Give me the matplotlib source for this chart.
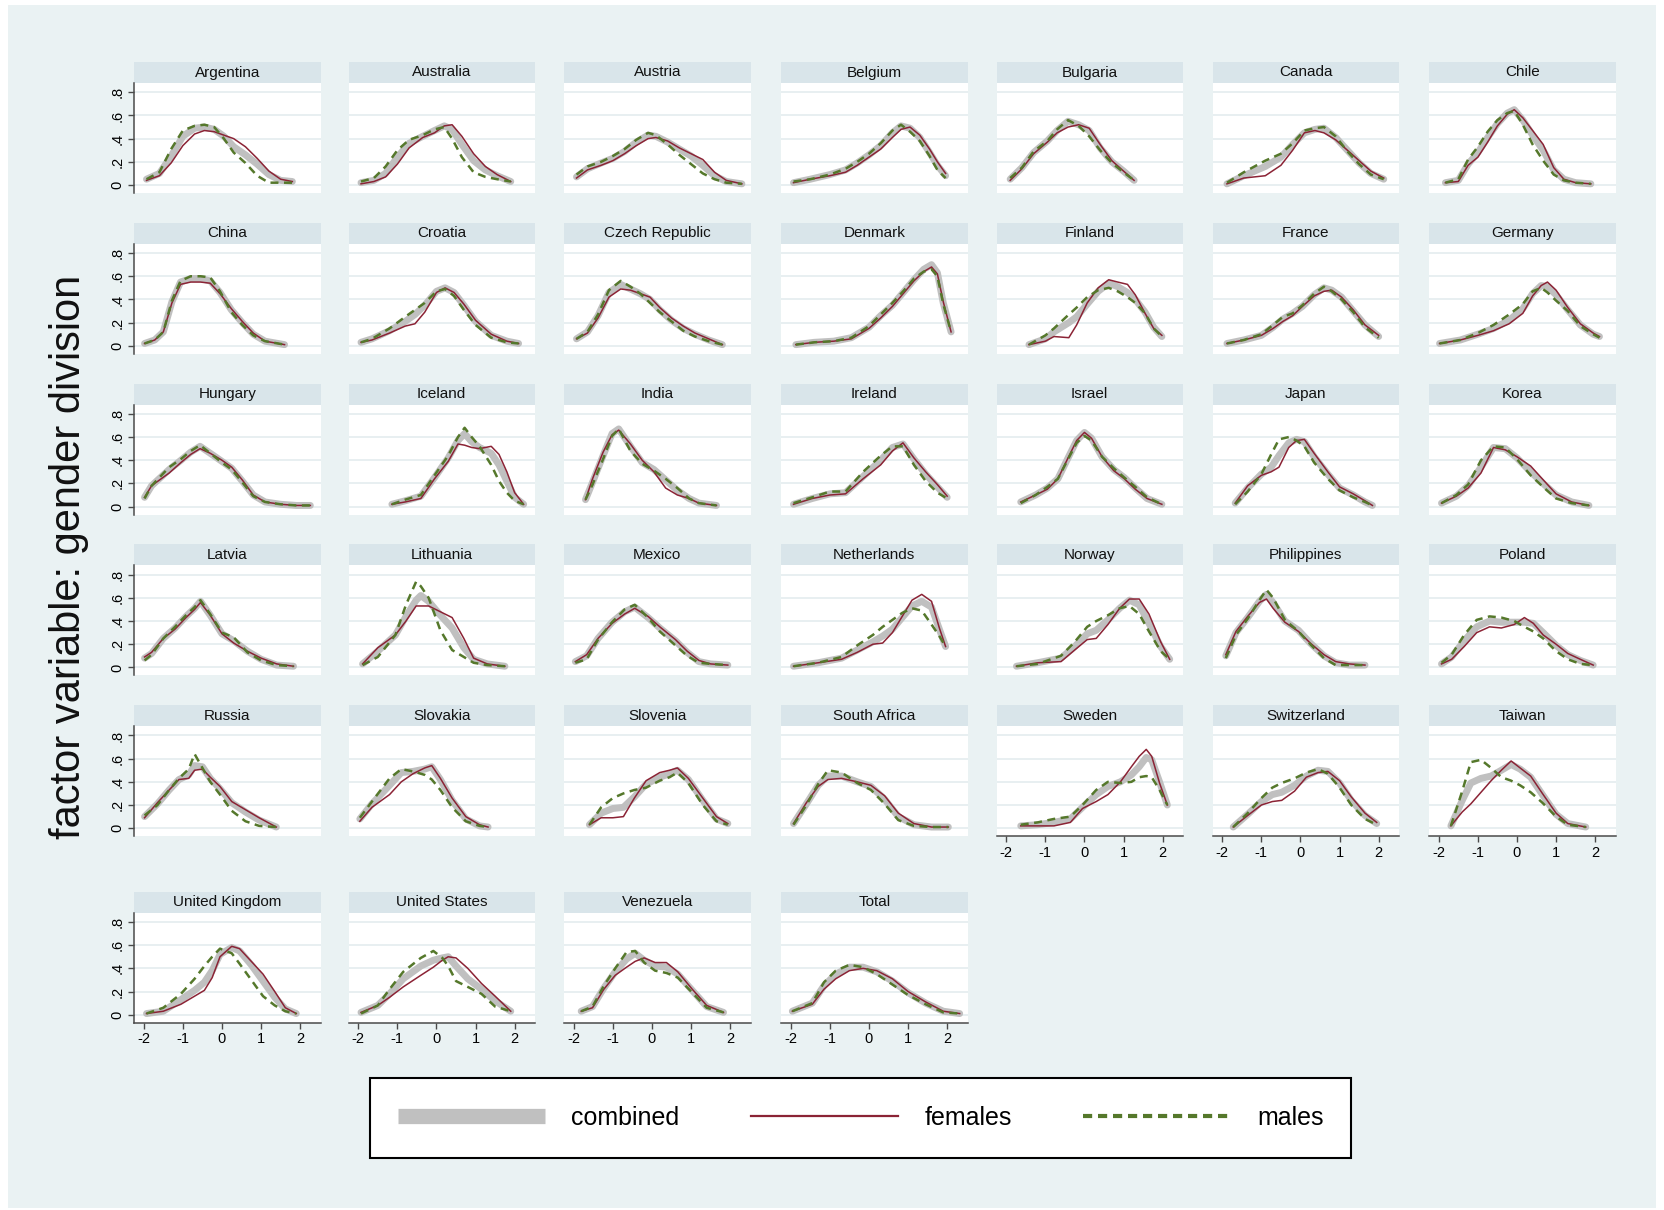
import matplotlib
matplotlib.use("Agg")
import matplotlib.pyplot as plt
from matplotlib.lines import Line2D
from matplotlib.patches import Rectangle

plt.rcParams['font.family'] = ['Liberation Sans', 'DejaVu Sans']

# ---------------- data ----------------
ARGENTINA_X = [-1.93,-1.6,-1.3,-1.0,-0.7,-0.45,-0.2,0.05,0.3,0.6,0.9,1.2,1.5,1.8]
ARGENTINA_C = [0.05,0.10,0.25,0.42,0.49,0.50,0.48,0.42,0.33,0.26,0.18,0.09,0.04,0.03]
ARGENTINA_F = [0.04,0.08,0.19,0.34,0.44,0.47,0.46,0.43,0.40,0.33,0.23,0.12,0.05,0.03]
ARGENTINA_M = [0.05,0.11,0.31,0.47,0.51,0.52,0.50,0.40,0.28,0.19,0.08,0.02,0.02,0.02]

AUSTRALIA_X = [-1.93,-1.6,-1.3,-1.0,-0.7,-0.35,-0.05,0.2,0.4,0.65,0.95,1.25,1.55,1.9]
AUSTRALIA_C = [0.02,0.04,0.10,0.24,0.36,0.42,0.47,0.51,0.48,0.35,0.21,0.13,0.08,0.03]
AUSTRALIA_F = [0.01,0.03,0.07,0.18,0.32,0.41,0.45,0.51,0.52,0.42,0.27,0.16,0.09,0.03]
AUSTRALIA_M = [0.03,0.06,0.16,0.30,0.39,0.43,0.48,0.50,0.40,0.24,0.11,0.07,0.05,0.03]

AUSTRIA_X = [-1.93,-1.65,-1.3,-1.0,-0.7,-0.4,-0.1,0.1,0.4,0.7,1.0,1.3,1.6,1.9,2.3]
AUSTRIA_C = [0.07,0.14,0.19,0.23,0.29,0.37,0.43,0.42,0.37,0.31,0.25,0.17,0.08,0.03,0.01]
AUSTRIA_F = [0.06,0.13,0.17,0.21,0.27,0.34,0.40,0.41,0.38,0.32,0.27,0.22,0.11,0.04,0.01]
AUSTRIA_M = [0.09,0.16,0.20,0.25,0.31,0.39,0.45,0.43,0.35,0.26,0.18,0.10,0.05,0.02,0.01]

BELGIUM_X = [-1.93,-1.5,-1.0,-0.6,-0.3,0.0,0.3,0.6,0.82,1.05,1.3,1.55,1.75,1.96]
BELGIUM_C = [0.02,0.05,0.09,0.13,0.19,0.26,0.34,0.45,0.51,0.49,0.41,0.28,0.17,0.08]
BELGIUM_F = [0.02,0.05,0.08,0.11,0.17,0.24,0.31,0.41,0.48,0.50,0.43,0.31,0.20,0.10]
BELGIUM_M = [0.03,0.05,0.09,0.14,0.20,0.27,0.36,0.47,0.52,0.46,0.38,0.25,0.13,0.06]

BULGARIA_X = [-1.9,-1.6,-1.3,-0.95,-0.7,-0.42,-0.15,0.12,0.4,0.7,1.0,1.27]
BULGARIA_C = [0.05,0.15,0.28,0.38,0.47,0.55,0.52,0.47,0.32,0.20,0.12,0.04]
BULGARIA_F = [0.04,0.14,0.27,0.37,0.45,0.50,0.52,0.49,0.35,0.21,0.12,0.04]
BULGARIA_M = [0.06,0.15,0.29,0.38,0.48,0.56,0.51,0.42,0.30,0.19,0.11,0.04]

CANADA_X = [-1.88,-1.45,-0.9,-0.5,-0.2,0.1,0.37,0.6,0.9,1.2,1.5,1.8,2.13]
CANADA_C = [0.01,0.08,0.16,0.24,0.35,0.45,0.48,0.49,0.41,0.30,0.19,0.10,0.05]
CANADA_F = [0.01,0.06,0.08,0.17,0.30,0.45,0.47,0.45,0.39,0.30,0.21,0.12,0.06]
CANADA_M = [0.02,0.11,0.21,0.27,0.36,0.47,0.49,0.50,0.42,0.29,0.18,0.09,0.05]

CHILE_X = [-1.83,-1.5,-1.25,-1.0,-0.75,-0.5,-0.25,-0.07,0.15,0.4,0.67,0.94,1.2,1.5,1.89]
CHILE_C = [0.02,0.04,0.18,0.28,0.41,0.53,0.62,0.65,0.56,0.43,0.30,0.13,0.05,0.02,0.01]
CHILE_F = [0.02,0.03,0.17,0.24,0.37,0.51,0.61,0.65,0.58,0.47,0.35,0.15,0.05,0.02,0.01]
CHILE_M = [0.02,0.05,0.22,0.33,0.46,0.56,0.62,0.64,0.52,0.35,0.21,0.09,0.04,0.02,0.01]

CHINA_X = [-1.98,-1.72,-1.5,-1.28,-1.06,-0.8,-0.55,-0.3,-0.05,0.24,0.52,0.8,1.1,1.6]
CHINA_C = [0.02,0.05,0.12,0.38,0.55,0.58,0.58,0.56,0.46,0.31,0.20,0.10,0.04,0.01]
CHINA_F = [0.02,0.05,0.12,0.37,0.53,0.55,0.55,0.54,0.45,0.32,0.21,0.11,0.04,0.01]
CHINA_M = [0.02,0.05,0.12,0.39,0.56,0.60,0.60,0.59,0.47,0.29,0.18,0.09,0.04,0.01]

CROATIA_X = [-1.93,-1.65,-1.2,-0.8,-0.55,-0.3,0.0,0.22,0.45,0.7,1.0,1.4,1.8,2.1]
CROATIA_C = [0.03,0.06,0.13,0.21,0.27,0.35,0.47,0.50,0.46,0.35,0.21,0.09,0.04,0.02]
CROATIA_F = [0.03,0.05,0.11,0.17,0.19,0.29,0.46,0.50,0.46,0.36,0.22,0.10,0.04,0.02]
CROATIA_M = [0.03,0.06,0.15,0.25,0.31,0.37,0.47,0.49,0.43,0.31,0.18,0.07,0.03,0.02]

CZECH_X = [-1.93,-1.65,-1.38,-1.1,-0.8,-0.55,-0.3,-0.05,0.2,0.5,0.8,1.1,1.45,1.8]
CZECH_C = [0.06,0.12,0.26,0.46,0.53,0.49,0.45,0.40,0.31,0.22,0.15,0.10,0.05,0.01]
CZECH_F = [0.06,0.11,0.24,0.42,0.49,0.48,0.45,0.42,0.33,0.24,0.17,0.11,0.06,0.01]
CZECH_M = [0.06,0.12,0.27,0.48,0.56,0.51,0.45,0.37,0.29,0.21,0.13,0.08,0.04,0.01]

DENMARK_X = [-1.87,-1.4,-0.9,-0.45,0.0,0.3,0.6,0.9,1.15,1.4,1.6,1.75,1.9,2.1]
DENMARK_C = [0.01,0.03,0.04,0.07,0.16,0.26,0.35,0.47,0.57,0.66,0.70,0.63,0.37,0.12]
DENMARK_F = [0.01,0.03,0.04,0.06,0.15,0.24,0.34,0.46,0.56,0.64,0.68,0.62,0.38,0.12]
DENMARK_M = [0.01,0.03,0.04,0.07,0.17,0.27,0.37,0.48,0.58,0.64,0.66,0.60,0.36,0.12]

FINLAND_X = [-1.42,-1.0,-0.78,-0.4,-0.2,0.07,0.35,0.62,0.85,1.1,1.3,1.55,1.77,1.98]
FINLAND_C = [0.01,0.06,0.12,0.20,0.25,0.36,0.47,0.54,0.51,0.46,0.40,0.29,0.16,0.08]
FINLAND_F = [0.01,0.04,0.08,0.07,0.18,0.37,0.50,0.57,0.55,0.53,0.44,0.28,0.15,0.09]
FINLAND_M = [0.01,0.09,0.15,0.27,0.33,0.42,0.48,0.50,0.47,0.42,0.37,0.28,0.15,0.08]

FRANCE_X = [-1.88,-1.45,-1.0,-0.7,-0.45,-0.2,0.05,0.35,0.6,0.8,1.05,1.35,1.65,2.0]
FRANCE_C = [0.02,0.05,0.09,0.16,0.23,0.28,0.34,0.44,0.50,0.48,0.42,0.30,0.18,0.08]
FRANCE_F = [0.02,0.05,0.09,0.15,0.21,0.26,0.34,0.43,0.47,0.48,0.42,0.31,0.18,0.09]
FRANCE_M = [0.02,0.05,0.10,0.18,0.25,0.28,0.35,0.45,0.51,0.47,0.40,0.29,0.16,0.07]

GERMANY_X = [-1.98,-1.45,-1.0,-0.6,-0.2,0.15,0.4,0.62,0.78,1.0,1.3,1.62,1.95,2.11]
GERMANY_C = [0.02,0.05,0.10,0.15,0.22,0.32,0.45,0.52,0.51,0.44,0.31,0.18,0.10,0.08]
GERMANY_F = [0.02,0.05,0.09,0.13,0.19,0.28,0.43,0.52,0.55,0.48,0.33,0.19,0.11,0.08]
GERMANY_M = [0.02,0.05,0.11,0.18,0.27,0.36,0.47,0.50,0.46,0.39,0.30,0.17,0.10,0.07]

HUNGARY_X = [-1.98,-1.8,-1.35,-1.05,-0.8,-0.56,-0.3,0.0,0.25,0.52,0.8,1.1,1.5,1.9,2.26]
HUNGARY_C = [0.08,0.18,0.32,0.40,0.47,0.52,0.46,0.39,0.33,0.22,0.10,0.04,0.02,0.01,0.01]
HUNGARY_F = [0.08,0.18,0.29,0.38,0.45,0.50,0.46,0.40,0.34,0.23,0.10,0.04,0.02,0.01,0.01]
HUNGARY_M = [0.07,0.18,0.34,0.41,0.48,0.53,0.46,0.38,0.32,0.21,0.09,0.04,0.02,0.01,0.01]

ICELAND_X = [-1.14,-0.8,-0.4,-0.05,0.3,0.55,0.72,0.9,1.1,1.4,1.6,1.8,2.0,2.23]
ICELAND_C = [0.02,0.05,0.09,0.25,0.42,0.57,0.63,0.56,0.51,0.46,0.36,0.22,0.08,0.02]
ICELAND_F = [0.02,0.04,0.07,0.24,0.39,0.54,0.53,0.51,0.50,0.52,0.45,0.30,0.12,0.02]
ICELAND_M = [0.02,0.06,0.10,0.27,0.44,0.60,0.68,0.60,0.52,0.36,0.22,0.12,0.05,0.02]

INDIA_X = [-1.7,-1.52,-1.25,-1.02,-0.85,-0.55,-0.25,0.05,0.35,0.65,0.95,1.2,1.65]
INDIA_C = [0.06,0.21,0.44,0.63,0.67,0.52,0.38,0.32,0.23,0.14,0.07,0.03,0.01]
INDIA_F = [0.06,0.24,0.47,0.62,0.66,0.54,0.40,0.30,0.16,0.10,0.07,0.03,0.01]
INDIA_M = [0.06,0.19,0.41,0.61,0.67,0.48,0.37,0.31,0.24,0.16,0.07,0.03,0.01]

IRELAND_X = [-1.93,-1.45,-1.0,-0.6,-0.15,0.3,0.6,0.87,1.15,1.45,1.75,2.0]
IRELAND_C = [0.02,0.07,0.11,0.12,0.26,0.40,0.51,0.54,0.41,0.28,0.17,0.08]
IRELAND_F = [0.02,0.07,0.10,0.11,0.24,0.36,0.48,0.55,0.42,0.30,0.19,0.09]
IRELAND_M = [0.03,0.08,0.13,0.13,0.30,0.44,0.52,0.52,0.36,0.22,0.12,0.07]

ISRAEL_X = [-1.63,-1.25,-0.95,-0.68,-0.42,-0.2,0.0,0.18,0.45,0.75,1.02,1.3,1.6,1.98]
ISRAEL_C = [0.04,0.10,0.16,0.24,0.42,0.57,0.64,0.59,0.43,0.32,0.25,0.16,0.07,0.02]
ISRAEL_F = [0.04,0.10,0.15,0.24,0.42,0.57,0.64,0.59,0.43,0.31,0.24,0.15,0.07,0.02]
ISRAEL_M = [0.03,0.10,0.17,0.24,0.41,0.55,0.61,0.57,0.43,0.33,0.25,0.17,0.08,0.02]

JAPAN_X = [-1.67,-1.35,-1.0,-0.75,-0.55,-0.3,-0.1,0.1,0.35,0.7,1.0,1.35,1.65,1.84]
JAPAN_C = [0.03,0.16,0.28,0.34,0.44,0.55,0.58,0.56,0.43,0.28,0.16,0.10,0.04,0.01]
JAPAN_F = [0.03,0.18,0.27,0.30,0.34,0.51,0.57,0.58,0.46,0.30,0.17,0.11,0.05,0.01]
JAPAN_M = [0.02,0.13,0.28,0.45,0.58,0.60,0.57,0.52,0.38,0.24,0.14,0.08,0.04,0.01]

KOREA_X = [-1.93,-1.55,-1.25,-0.92,-0.6,-0.3,0.0,0.35,0.7,1.0,1.4,1.84]
KOREA_C = [0.03,0.09,0.18,0.34,0.51,0.50,0.42,0.30,0.19,0.10,0.04,0.01]
KOREA_F = [0.03,0.09,0.16,0.29,0.51,0.49,0.43,0.35,0.22,0.11,0.04,0.01]
KOREA_M = [0.03,0.10,0.19,0.40,0.52,0.51,0.41,0.27,0.16,0.07,0.03,0.01]

LATVIA_X = [-1.98,-1.8,-1.5,-1.2,-0.92,-0.7,-0.55,-0.3,0.0,0.3,0.65,1.0,1.4,1.83]
LATVIA_C = [0.08,0.12,0.25,0.34,0.44,0.51,0.57,0.45,0.29,0.23,0.14,0.07,0.02,0.01]
LATVIA_F = [0.09,0.13,0.25,0.33,0.43,0.50,0.56,0.45,0.29,0.21,0.14,0.08,0.03,0.01]
LATVIA_M = [0.06,0.11,0.25,0.35,0.45,0.52,0.58,0.46,0.30,0.26,0.13,0.06,0.02,0.01]

LITHUANIA_X = [-1.89,-1.5,-1.05,-0.78,-0.52,-0.4,-0.2,0.1,0.4,0.7,0.95,1.3,1.75]
LITHUANIA_C = [0.03,0.14,0.28,0.44,0.58,0.62,0.57,0.45,0.34,0.17,0.07,0.03,0.01]
LITHUANIA_F = [0.03,0.17,0.28,0.40,0.53,0.53,0.53,0.48,0.43,0.25,0.08,0.03,0.01]
LITHUANIA_M = [0.02,0.09,0.28,0.54,0.74,0.70,0.60,0.32,0.15,0.09,0.04,0.02,0.01]

MEXICO_X = [-1.96,-1.67,-1.38,-1.02,-0.7,-0.44,-0.1,0.2,0.6,0.9,1.2,1.5,1.94]
MEXICO_C = [0.05,0.10,0.25,0.39,0.48,0.52,0.43,0.34,0.23,0.13,0.05,0.03,0.02]
MEXICO_F = [0.05,0.11,0.25,0.38,0.46,0.51,0.44,0.35,0.24,0.14,0.06,0.03,0.02]
MEXICO_M = [0.04,0.07,0.24,0.39,0.50,0.54,0.43,0.31,0.19,0.10,0.04,0.03,0.02]

NETHERLANDS_X = [-1.93,-1.3,-0.7,-0.3,0.1,0.35,0.6,0.85,1.1,1.35,1.6,1.8,1.96]
NETHERLANDS_C = [0.01,0.04,0.08,0.15,0.22,0.27,0.33,0.43,0.53,0.57,0.52,0.33,0.18]
NETHERLANDS_F = [0.01,0.04,0.07,0.13,0.20,0.21,0.30,0.44,0.58,0.63,0.57,0.34,0.18]
NETHERLANDS_M = [0.01,0.04,0.09,0.19,0.28,0.35,0.41,0.47,0.51,0.49,0.37,0.27,0.18]

NORWAY_X = [-1.74,-1.2,-0.6,-0.25,0.07,0.3,0.6,0.9,1.15,1.4,1.65,1.95,2.18]
NORWAY_C = [0.01,0.04,0.08,0.18,0.29,0.32,0.41,0.51,0.58,0.54,0.38,0.18,0.07]
NORWAY_F = [0.01,0.04,0.05,0.15,0.24,0.25,0.37,0.51,0.59,0.59,0.46,0.22,0.07]
NORWAY_M = [0.01,0.03,0.10,0.22,0.35,0.40,0.45,0.51,0.53,0.46,0.31,0.14,0.07]

PHILIPPINES_X = [-1.91,-1.65,-1.35,-1.05,-0.87,-0.7,-0.4,-0.05,0.25,0.6,0.9,1.25,1.65]
PHILIPPINES_C = [0.10,0.30,0.43,0.57,0.63,0.56,0.40,0.32,0.21,0.10,0.04,0.02,0.02]
PHILIPPINES_F = [0.11,0.31,0.44,0.56,0.59,0.51,0.39,0.31,0.21,0.11,0.05,0.03,0.02]
PHILIPPINES_M = [0.08,0.28,0.42,0.58,0.67,0.60,0.41,0.31,0.20,0.08,0.02,0.02,0.02]

POLAND_X = [-1.93,-1.67,-1.35,-1.03,-0.7,-0.4,-0.07,0.19,0.42,0.67,1.0,1.3,1.62,1.95]
POLAND_C = [0.03,0.09,0.23,0.35,0.40,0.39,0.39,0.39,0.38,0.30,0.19,0.11,0.06,0.02]
POLAND_F = [0.03,0.07,0.18,0.30,0.35,0.34,0.37,0.43,0.38,0.28,0.20,0.12,0.07,0.02]
POLAND_M = [0.04,0.11,0.28,0.41,0.44,0.43,0.40,0.35,0.31,0.25,0.14,0.07,0.03,0.02]

RUSSIA_X = [-1.98,-1.65,-1.35,-1.1,-0.85,-0.7,-0.5,-0.3,-0.05,0.25,0.6,0.95,1.39]
RUSSIA_C = [0.10,0.21,0.33,0.42,0.46,0.54,0.53,0.43,0.34,0.22,0.14,0.07,0.01]
RUSSIA_F = [0.09,0.22,0.33,0.42,0.43,0.50,0.51,0.44,0.36,0.23,0.16,0.09,0.01]
RUSSIA_M = [0.11,0.20,0.33,0.43,0.51,0.64,0.52,0.40,0.29,0.15,0.06,0.02,0.01]

SLOVAKIA_X = [-1.96,-1.65,-1.2,-0.9,-0.6,-0.3,-0.12,0.1,0.4,0.75,1.1,1.32]
SLOVAKIA_C = [0.08,0.21,0.37,0.48,0.49,0.51,0.53,0.42,0.24,0.08,0.02,0.01]
SLOVAKIA_F = [0.06,0.18,0.29,0.40,0.47,0.52,0.54,0.43,0.26,0.10,0.03,0.01]
SLOVAKIA_M = [0.09,0.23,0.43,0.51,0.49,0.46,0.42,0.33,0.18,0.06,0.02,0.01]

SLOVENIA_X = [-1.6,-1.3,-1.0,-0.73,-0.45,-0.15,0.2,0.45,0.65,0.93,1.3,1.65,1.94]
SLOVENIA_C = [0.03,0.13,0.17,0.18,0.27,0.38,0.44,0.47,0.50,0.42,0.24,0.08,0.04]
SLOVENIA_F = [0.03,0.09,0.09,0.10,0.26,0.41,0.48,0.50,0.52,0.43,0.26,0.10,0.04]
SLOVENIA_M = [0.03,0.18,0.26,0.30,0.33,0.35,0.41,0.44,0.48,0.39,0.20,0.06,0.03]

SOUTH_AFRICA_X = [-1.93,-1.6,-1.3,-1.05,-0.7,-0.3,0.05,0.4,0.75,1.15,1.6,2.03]
SOUTH_AFRICA_C = [0.04,0.21,0.37,0.45,0.45,0.40,0.36,0.25,0.10,0.03,0.01,0.01]
SOUTH_AFRICA_F = [0.04,0.22,0.36,0.42,0.43,0.40,0.37,0.28,0.13,0.04,0.01,0.01]
SOUTH_AFRICA_M = [0.03,0.20,0.38,0.50,0.48,0.39,0.33,0.21,0.07,0.02,0.01,0.01]

SWEDEN_X = [-1.63,-1.2,-0.78,-0.36,-0.05,0.3,0.6,0.92,1.2,1.4,1.58,1.72,1.92,2.12]
SWEDEN_C = [0.02,0.03,0.05,0.08,0.18,0.29,0.36,0.40,0.46,0.53,0.61,0.59,0.40,0.20]
SWEDEN_F = [0.02,0.02,0.02,0.05,0.17,0.23,0.29,0.40,0.53,0.62,0.68,0.62,0.39,0.20]
SWEDEN_M = [0.03,0.05,0.08,0.10,0.20,0.33,0.40,0.39,0.40,0.44,0.45,0.44,0.33,0.20]

SWITZERLAND_X = [-1.72,-1.35,-1.0,-0.72,-0.48,-0.15,0.15,0.45,0.7,1.0,1.3,1.65,1.95]
SWITZERLAND_C = [0.01,0.12,0.23,0.29,0.31,0.37,0.45,0.50,0.49,0.39,0.24,0.11,0.04]
SWITZERLAND_F = [0.01,0.11,0.20,0.23,0.24,0.32,0.44,0.48,0.49,0.41,0.27,0.13,0.05]
SWITZERLAND_M = [0.01,0.13,0.26,0.35,0.39,0.43,0.48,0.51,0.47,0.35,0.20,0.08,0.03]

TAIWAN_X = [-1.69,-1.4,-1.18,-0.92,-0.66,-0.4,-0.15,0.08,0.35,0.65,1.0,1.3,1.76]
TAIWAN_C = [0.02,0.24,0.39,0.43,0.45,0.50,0.55,0.51,0.44,0.29,0.12,0.04,0.01]
TAIWAN_F = [0.02,0.14,0.21,0.31,0.41,0.50,0.58,0.52,0.45,0.30,0.13,0.04,0.01]
TAIWAN_M = [0.02,0.32,0.57,0.59,0.52,0.44,0.41,0.37,0.31,0.22,0.10,0.03,0.01]

UK_X = [-1.93,-1.5,-1.05,-0.7,-0.45,-0.25,-0.05,0.25,0.45,0.75,1.05,1.35,1.62,1.9]
UK_C = [0.01,0.03,0.13,0.21,0.28,0.38,0.52,0.58,0.55,0.43,0.29,0.15,0.05,0.01]
UK_F = [0.01,0.03,0.09,0.16,0.21,0.32,0.50,0.59,0.57,0.46,0.35,0.20,0.06,0.01]
UK_M = [0.01,0.06,0.18,0.31,0.42,0.50,0.57,0.53,0.44,0.30,0.16,0.08,0.03,0.01]

US_X = [-1.93,-1.5,-1.2,-0.85,-0.4,-0.08,0.15,0.3,0.5,0.8,1.15,1.5,1.9]
US_C = [0.02,0.08,0.18,0.31,0.42,0.47,0.49,0.50,0.42,0.31,0.22,0.12,0.03]
US_F = [0.02,0.08,0.15,0.24,0.34,0.41,0.47,0.50,0.49,0.40,0.27,0.16,0.03]
US_M = [0.01,0.08,0.22,0.37,0.49,0.55,0.49,0.42,0.29,0.24,0.18,0.07,0.03]

VENEZUELA_X = [-1.81,-1.52,-1.23,-0.94,-0.65,-0.43,-0.2,0.08,0.37,0.66,1.03,1.4,1.83]
VENEZUELA_C = [0.03,0.07,0.23,0.37,0.48,0.53,0.47,0.42,0.41,0.35,0.21,0.07,0.02]
VENEZUELA_F = [0.03,0.06,0.22,0.34,0.41,0.46,0.49,0.45,0.45,0.37,0.22,0.08,0.02]
VENEZUELA_M = [0.03,0.07,0.25,0.40,0.54,0.55,0.45,0.38,0.36,0.32,0.19,0.06,0.02]

TOTAL_X = [-1.96,-1.45,-1.15,-0.85,-0.5,-0.15,0.2,0.6,1.0,1.45,1.9,2.32]
TOTAL_C = [0.03,0.10,0.25,0.35,0.41,0.41,0.37,0.29,0.19,0.10,0.03,0.01]
TOTAL_F = [0.03,0.09,0.22,0.31,0.38,0.40,0.38,0.31,0.20,0.11,0.03,0.01]
TOTAL_M = [0.03,0.10,0.28,0.38,0.43,0.41,0.35,0.26,0.17,0.09,0.02,0.01]

PANELS = [
    ("Argentina", ARGENTINA_X, ARGENTINA_C, ARGENTINA_F, ARGENTINA_M),
    ("Australia", AUSTRALIA_X, AUSTRALIA_C, AUSTRALIA_F, AUSTRALIA_M),
    ("Austria", AUSTRIA_X, AUSTRIA_C, AUSTRIA_F, AUSTRIA_M),
    ("Belgium", BELGIUM_X, BELGIUM_C, BELGIUM_F, BELGIUM_M),
    ("Bulgaria", BULGARIA_X, BULGARIA_C, BULGARIA_F, BULGARIA_M),
    ("Canada", CANADA_X, CANADA_C, CANADA_F, CANADA_M),
    ("Chile", CHILE_X, CHILE_C, CHILE_F, CHILE_M),
    ("China", CHINA_X, CHINA_C, CHINA_F, CHINA_M),
    ("Croatia", CROATIA_X, CROATIA_C, CROATIA_F, CROATIA_M),
    ("Czech Republic", CZECH_X, CZECH_C, CZECH_F, CZECH_M),
    ("Denmark", DENMARK_X, DENMARK_C, DENMARK_F, DENMARK_M),
    ("Finland", FINLAND_X, FINLAND_C, FINLAND_F, FINLAND_M),
    ("France", FRANCE_X, FRANCE_C, FRANCE_F, FRANCE_M),
    ("Germany", GERMANY_X, GERMANY_C, GERMANY_F, GERMANY_M),
    ("Hungary", HUNGARY_X, HUNGARY_C, HUNGARY_F, HUNGARY_M),
    ("Iceland", ICELAND_X, ICELAND_C, ICELAND_F, ICELAND_M),
    ("India", INDIA_X, INDIA_C, INDIA_F, INDIA_M),
    ("Ireland", IRELAND_X, IRELAND_C, IRELAND_F, IRELAND_M),
    ("Israel", ISRAEL_X, ISRAEL_C, ISRAEL_F, ISRAEL_M),
    ("Japan", JAPAN_X, JAPAN_C, JAPAN_F, JAPAN_M),
    ("Korea", KOREA_X, KOREA_C, KOREA_F, KOREA_M),
    ("Latvia", LATVIA_X, LATVIA_C, LATVIA_F, LATVIA_M),
    ("Lithuania", LITHUANIA_X, LITHUANIA_C, LITHUANIA_F, LITHUANIA_M),
    ("Mexico", MEXICO_X, MEXICO_C, MEXICO_F, MEXICO_M),
    ("Netherlands", NETHERLANDS_X, NETHERLANDS_C, NETHERLANDS_F, NETHERLANDS_M),
    ("Norway", NORWAY_X, NORWAY_C, NORWAY_F, NORWAY_M),
    ("Philippines", PHILIPPINES_X, PHILIPPINES_C, PHILIPPINES_F, PHILIPPINES_M),
    ("Poland", POLAND_X, POLAND_C, POLAND_F, POLAND_M),
    ("Russia", RUSSIA_X, RUSSIA_C, RUSSIA_F, RUSSIA_M),
    ("Slovakia", SLOVAKIA_X, SLOVAKIA_C, SLOVAKIA_F, SLOVAKIA_M),
    ("Slovenia", SLOVENIA_X, SLOVENIA_C, SLOVENIA_F, SLOVENIA_M),
    ("South Africa", SOUTH_AFRICA_X, SOUTH_AFRICA_C, SOUTH_AFRICA_F, SOUTH_AFRICA_M),
    ("Sweden", SWEDEN_X, SWEDEN_C, SWEDEN_F, SWEDEN_M),
    ("Switzerland", SWITZERLAND_X, SWITZERLAND_C, SWITZERLAND_F, SWITZERLAND_M),
    ("Taiwan", TAIWAN_X, TAIWAN_C, TAIWAN_F, TAIWAN_M),
    ("United Kingdom", UK_X, UK_C, UK_F, UK_M),
    ("United States", US_X, US_C, US_F, US_M),
    ("Venezuela", VENEZUELA_X, VENEZUELA_C, VENEZUELA_F, VENEZUELA_M),
    ("Total", TOTAL_X, TOTAL_C, TOTAL_F, TOTAL_M),
]

Y_TICKS = [0, 0.2, 0.4, 0.6, 0.8]
Y_TICK_LABELS = ["0", ".2", ".4", ".6", ".8"]
X_TICKS = [-2, -1, 0, 1, 2]
X_TICK_LABELS = ["-2", "-1", "0", "1", "2"]
SERIES_LABELS = ["combined", "females", "males"]
Y_TITLE = "factor variable: gender division"

# ---------------- styling / layout ----------------
W, H = 1664, 1210
BG = "#eaf2f3"
STRIP = "#d9e5ea"
GRID = "#e6eef0"
AXC = "#4a4a4a"
C_COMB = "#c0c0c0"
C_FEM = "#8b2335"
C_MALE = "#55782b"

COL_LEFT = [134, 348.5, 564, 781, 996.5, 1212.5, 1429]
PANEL_W = 186.5
ROW_TOP = [62, 222.8, 383.6, 544.4, 705.2, 891.7]
STRIP_H = 21
PLOT_H = 110

fig = plt.figure(figsize=(W / 100, H / 100), dpi=100)
fig.patch.set_facecolor("white")
fig.patches.append(Rectangle((8.3 / W, 1 - 1208 / H), (1655.6 - 8.3) / W, (1208 - 5) / H,
                             transform=fig.transFigure, facecolor=BG, edgecolor="none", zorder=-10))

n = len(PANELS)
for i, (name, xs, cs, fs, ms) in enumerate(PANELS):
    r, c = divmod(i, 7)
    left = COL_LEFT[c]
    top = ROW_TOP[r]
    sb = top + STRIP_H
    pb = sb + PLOT_H
    # strip
    sax = fig.add_axes([left / W, 1 - sb / H, PANEL_W / W, STRIP_H / H])
    sax.set_facecolor(STRIP)
    sax.set_xticks([]); sax.set_yticks([])
    for s in sax.spines.values():
        s.set_visible(False)
    sax.text(0.5, 0.5, name, ha="center", va="center", fontsize=11, color="#111111",
             transform=sax.transAxes)
    # plot
    ax = fig.add_axes([left / W, 1 - pb / H, PANEL_W / W, PLOT_H / H])
    ax.set_facecolor("white")
    ax.set_xlim(-2.25, 2.52)
    ax.set_ylim(-0.069, 0.88)
    ax.set_yticks(Y_TICKS)
    ax.set_xticks(X_TICKS)
    ax.grid(axis="y", color=GRID, linewidth=1.3, zorder=0)
    ax.set_axisbelow(True)
    ax.plot(xs, cs, color=C_COMB, lw=5, solid_capstyle="round", solid_joinstyle="round", zorder=2)
    ax.plot(xs, fs, color=C_FEM, lw=1.1, zorder=3)
    ax.plot(xs, ms, color=C_MALE, lw=1.8, linestyle=(0, (3.2, 2.2)), zorder=4)
    for sp in ["top", "right"]:
        ax.spines[sp].set_visible(False)
    has_below = (i + 7) < n
    is_left = (c == 0)
    if is_left:
        ax.spines["left"].set_color(AXC)
        ax.spines["left"].set_linewidth(1.1)
        ax.set_yticklabels(Y_TICK_LABELS, rotation=90, va="center", fontsize=10.5)
        ax.tick_params(axis="y", length=4, width=1.0, color=AXC, pad=3)
    else:
        ax.spines["left"].set_visible(False)
        ax.tick_params(axis="y", left=False, labelleft=False)
    if not has_below:
        ax.spines["bottom"].set_color(AXC)
        ax.spines["bottom"].set_linewidth(1.1)
        ax.set_xticklabels(X_TICK_LABELS, fontsize=10.5)
        ax.tick_params(axis="x", length=4, width=1.0, color=AXC, pad=3)
    else:
        ax.spines["bottom"].set_visible(False)
        ax.tick_params(axis="x", bottom=False, labelbottom=False)

# y title
fig.text(69 / W, 1 - 557 / H, Y_TITLE, rotation=90, ha="center", va="center", fontsize=30,
         color="#111111")

# legend
handles = [
    Line2D([], [], color=C_COMB, lw=11, solid_capstyle="butt"),
    Line2D([], [], color=C_FEM, lw=1.6),
    Line2D([], [], color=C_MALE, lw=3, linestyle=(0, (2.2, 1.4))),
]
leg = fig.legend(handles, SERIES_LABELS, loc="center",
                 bbox_to_anchor=((371 + 1350) / 2 / W, 1 - (1079 + 1157) / 2 / H),
                 ncol=3, fontsize=18, frameon=True, fancybox=False,
                 handlelength=5.9, handletextpad=1.05, columnspacing=2.85,
                 borderpad=1.12, handleheight=1.0)
fr = leg.get_frame()
fr.set_edgecolor("black")
fr.set_linewidth(1.5)
fr.set_facecolor("white")
fr.set_alpha(1)

fig.savefig("out.png", dpi=100, facecolor=fig.get_facecolor())
